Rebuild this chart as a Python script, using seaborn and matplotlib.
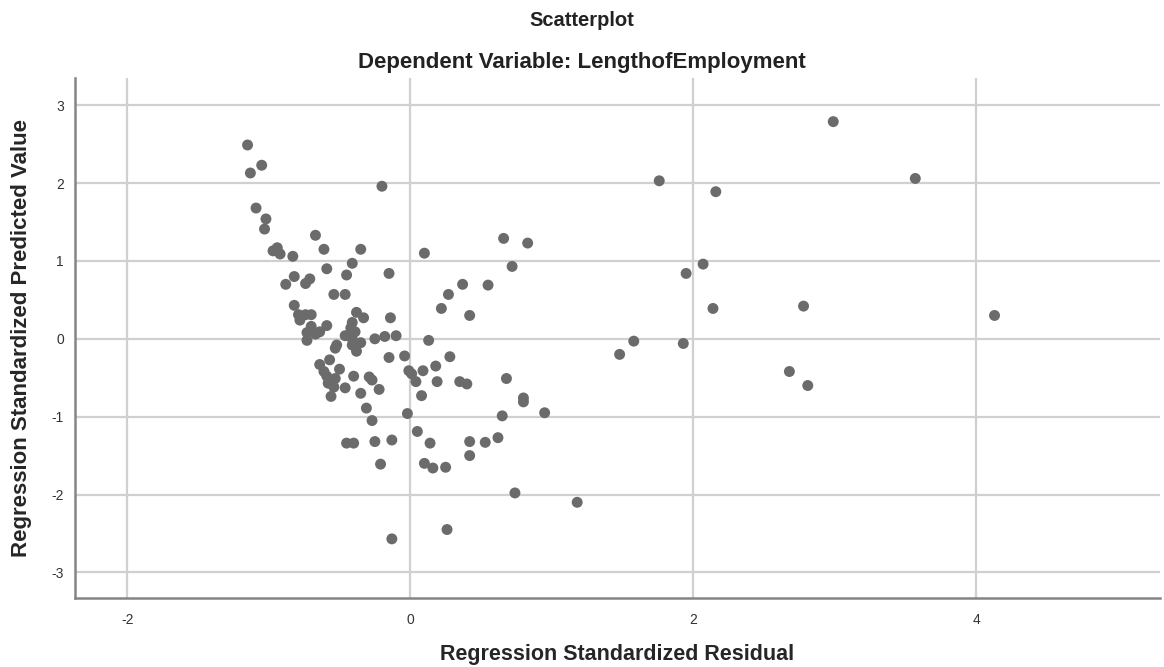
import matplotlib
matplotlib.use("Agg")
import matplotlib.pyplot as plt
import seaborn as sns
import pandas as pd

resid = [
    # right-hand outliers
    2.99, 3.57, 1.76, 2.16, 2.07, 1.95, 2.14, 2.78, 4.13, 1.58, 1.48, 1.93, 2.68, 2.81,
    # upper middle
    -0.20, 0.10, 0.66, 0.83, 0.72, -0.15, 0.37, 0.55, 0.27, 0.22, 0.42, -0.14, -0.18,
    -0.10, 0.13, -0.15, -0.04, 0.28,
    # lower middle
    -0.01, 0.01, 0.09, 0.18, 0.04, 0.19, 0.35, 0.40, 0.68, 0.08, 0.80, 0.80, -0.02,
    0.65, 0.95, -0.13, 0.05, 0.14, 0.42, 0.53, 0.62, 0.42, -0.21, 0.10, 0.16, 0.25,
    0.74, 1.18, 0.26, -0.13, -0.22,
    # upper left
    -1.15, -1.05, -1.13, -1.09, -1.02, -1.03, -0.67, -0.61, -0.35, -0.97, -0.94, -0.92,
    -0.83, -0.41, -0.59, -0.82, -0.45, -0.88, -0.74, -0.71, -0.54, -0.46, -0.82, -0.38,
    -0.33,
    # lower left
    -0.79, -0.74, -0.70, -0.78, -0.70, -0.59, -0.64, -0.73, -0.67, -0.41, -0.42, -0.39,
    -0.73, -0.46, -0.41, -0.35, -0.25, -0.52, -0.53, -0.41, -0.38, -0.64, -0.57, -0.61,
    -0.59, -0.55, -0.53, -0.58, -0.54, -0.56, -0.50, -0.40, -0.29, -0.27, -0.46, -0.35,
    -0.31, -0.27, -0.45, -0.40, -0.25,
]
pred = [
    2.79, 2.06, 2.03, 1.89, 0.96, 0.84, 0.39, 0.42, 0.30, -0.03, -0.20, -0.06, -0.42, -0.60,
    1.96, 1.10, 1.29, 1.23, 0.93, 0.84, 0.70, 0.69, 0.57, 0.39, 0.30, 0.27, 0.03,
    0.04, -0.02, -0.24, -0.22, -0.23,
    -0.41, -0.45, -0.41, -0.35, -0.55, -0.55, -0.55, -0.58, -0.51, -0.73, -0.76, -0.81, -0.96,
    -0.99, -0.95, -1.30, -1.19, -1.34, -1.32, -1.33, -1.27, -1.50, -1.61, -1.60, -1.66, -1.65,
    -1.98, -2.10, -2.45, -2.57, -0.65,
    2.49, 2.23, 2.13, 1.68, 1.54, 1.41, 1.33, 1.15, 1.15, 1.13, 1.17, 1.09,
    1.06, 0.97, 0.90, 0.80, 0.82, 0.70, 0.71, 0.77, 0.57, 0.57, 0.43, 0.34,
    0.27,
    0.31, 0.31, 0.31, 0.24, 0.16, 0.17, 0.09, 0.08, 0.06, 0.21, 0.14, 0.09,
    -0.02, 0.04, 0.00, -0.05, 0.00, -0.08, -0.12, -0.08, -0.16, -0.33, -0.27, -0.42,
    -0.48, -0.53, -0.51, -0.57, -0.62, -0.74, -0.39, -0.48, -0.49, -0.53, -0.63, -0.70,
    -0.89, -1.05, -1.34, -1.34, -1.32,
]
x_ticks = [-2, 0, 2, 4]
y_ticks = [-3, -2, -1, 0, 1, 2, 3]

df = pd.DataFrame({"resid": resid, "pred": pred})

sns.set_style("white")
plt.rcParams['font.family'] = ['Liberation Sans', 'DejaVu Sans']
plt.rcParams['axes.unicode_minus'] = False

fig = plt.figure(figsize=(11.64, 6.67), dpi=100)
ax = fig.add_axes([0.0644, 0.1034, 0.9322, 0.7796])

ax.set_xlim(-2.37, 5.30)
ax.set_ylim(-3.33, 3.35)
ax.set_xticks(x_ticks)
ax.set_yticks(y_ticks)
ax.grid(True, color='#d0d0d0', linewidth=1.6)
ax.set_axisbelow(True)

sns.scatterplot(data=df, x="resid", y="pred", ax=ax, color='#6b6b6b',
                s=62, edgecolor='none', zorder=3)

for side in ['top', 'right']:
    ax.spines[side].set_visible(False)
for side in ['left', 'bottom']:
    ax.spines[side].set_color('#858585')
    ax.spines[side].set_linewidth(1.8)

ax.tick_params(axis='both', labelcolor='#333333', labelsize=10, length=0)
ax.tick_params(axis='x', pad=11)
ax.tick_params(axis='y', pad=8)

ax.set_xlabel('Regression Standardized Residual', fontsize=15.5, fontweight='bold')
ax.xaxis.set_label_coords(0.5, -0.088)
ax.set_ylabel('Regression Standardized Predicted Value', fontsize=16, fontweight='bold', labelpad=14)

fig.text(0.5, 0.970, 'Scatterplot', ha='center', va='center', fontsize=14.5, fontweight='bold',
         color='#222222')
fig.text(0.5, 0.907, 'Dependent Variable: LengthofEmployment', ha='center', va='center',
         fontsize=16, fontweight='bold', color='#222222')

fig.savefig('out.png', dpi=100)
